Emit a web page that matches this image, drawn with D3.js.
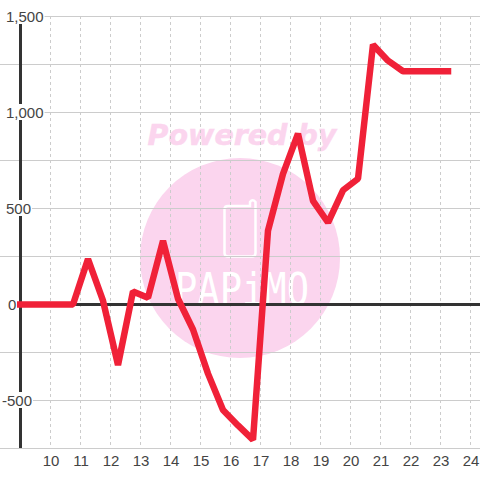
<!DOCTYPE html>
<html><head><meta charset="utf-8">
<script src="https://cdnjs.cloudflare.com/ajax/libs/d3/7.8.5/d3.min.js"></script>
<style>html,body{margin:0;padding:0;background:#fff}svg{display:block}text{font-family:"Liberation Sans",Arial,sans-serif}</style>
</head><body><svg id="c" width="480" height="480"></svg>
<script>
const hours=[8.75,9.25,9.75,10.25,10.75,11.25,11.75,12.25,12.75,13.25,13.75,14.25,14.75,15.25,15.75,16.25,16.75,17.25,17.75,18.25,18.75,19.25,19.75,20.25,20.75,21.25,21.75,22.25,22.75,23.25];
const values=[0,0,0,0,0,237,20,-315,68,35,332,30,-130,-360,-550,-630,-705,385,680,890,540,427,595,655,1353,1270,1215,1215,1215,1215];
const xTicks=[10,11,12,13,14,15,16,17,18,19,20,21,22,23,24];
const yMajor=[1500,1000,500,0,-500];
const yAll=[1500,1250,1000,750,500,250,0,-250,-500,-750];
const svg=d3.select("#c");
const x=d3.scaleLinear().domain([9,24]).range([20.5,470.5]);
const y=d3.scaleLinear().domain([1500,-750]).range([16.5,448.5]);
const fmt=d=>d3.format(",")(d).replace("\u2212","-");
// watermark
const wm=svg.append("g");
wm.append("circle").attr("cx",240).attr("cy",258).attr("r",100).attr("fill","#fbd5ee");
wm.append("text").attr("x",242).attr("y",145).attr("text-anchor","middle").attr("fill","#fbd5ee").attr("stroke","#fbd5ee").attr("stroke-width",0.5)
  .style("font-family","DejaVu Sans").style("font-weight","bold").style("font-style","italic").style("font-size","28.500px").text("Powered by");
wm.append("path").attr("d","M228 206 H250 V202 Q252.500 198.500 255.500 202 V253 Q255.500 256.500 252 256.500 H228 Q224.500 256.500 224.500 253 V209 Q224.500 206 228 206Z")
  .attr("fill","none").attr("stroke","#fff").attr("stroke-width",2.500);
wm.append("text").attr("x",175).attr("y",305).attr("textLength",134).attr("lengthAdjust","spacingAndGlyphs")
  .attr("fill","#fff").attr("stroke","#fbd5ee").attr("stroke-width",1.600).attr("paint-order","stroke")
  .style("font-family","DejaVu Sans Mono").style("font-size","44px").text("PAPiMO");
// grid
svg.append("g").selectAll("line").data(yAll).join("line")
  .attr("x1",0).attr("x2",480).attr("y1",d=>y(d)).attr("y2",d=>y(d)).attr("stroke","#ccc").attr("stroke-width",1);
svg.append("g").selectAll("line").data(xTicks).join("line")
  .attr("x1",d=>x(d)).attr("x2",d=>x(d)).attr("y1",16).attr("y2",448).attr("stroke","#ccc").attr("stroke-width",1).attr("stroke-dasharray","3,3");
// axes
svg.append("line").attr("x1",x(9)).attr("x2",x(9)).attr("y1",24).attr("y2",448).attr("stroke","#333").attr("stroke-width",3);
svg.append("line").attr("x1",x(9)).attr("x2",480).attr("y1",y(0)).attr("y2",y(0)).attr("stroke","#333").attr("stroke-width",3);
// y labels with white background
const yl=svg.append("g").selectAll("g").data(yMajor).join("g");
yl.append("text").attr("x",d=>d<0?2:d===0?8:6).attr("y",d=>y(d)+5.500).attr("fill","#444").style("font-size","15px").text(fmt);
yl.each(function(d){
  const b=d3.select(this).select("text").node().getBBox();
  d3.select(this).insert("rect","text").attr("x",0).attr("y",y(d)-8.500).attr("width",b.x+b.width+1).attr("height",16).attr("fill","#fff");
});
// x labels
const xAxis=d3.axisBottom(x).tickValues(xTicks).tickSize(0).tickFormat(d3.format("d"));
const gx=svg.append("g").attr("transform","translate(0,448)").call(xAxis);
gx.select(".domain").remove();
gx.selectAll("text").attr("y",0).attr("dy",null).attr("transform","translate(0,18)").attr("fill","#444").style("font-size","15px").style("font-family","Liberation Sans");
// series
svg.append("clipPath").attr("id","pl").append("rect").attr("x",17).attr("y",0).attr("width",463).attr("height",480);
svg.append("path").datum(hours.map((h,i)=>[h,values[i]])).attr("clip-path","url(#pl)")
  .attr("d",d3.line().x(d=>x(d[0])).y(d=>y(d[1])))
  .attr("fill","none").attr("stroke","#f02138").attr("stroke-width",6.500).attr("stroke-linejoin","bevel").attr("stroke-linecap","square");
</script></body></html>
